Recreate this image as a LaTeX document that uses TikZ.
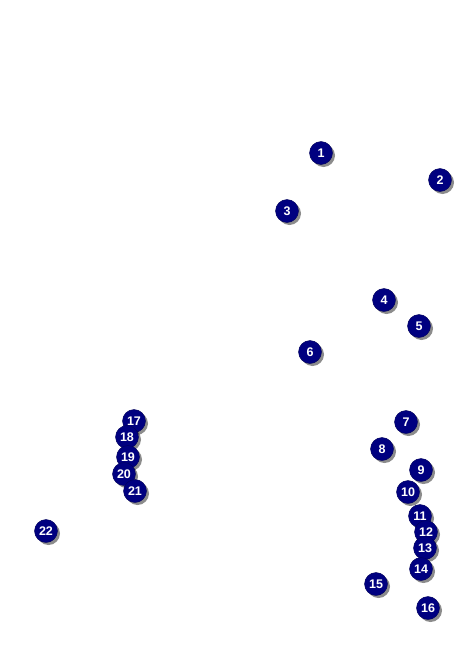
\documentclass[tikz,border=0pt]{standalone}
\usepackage{fontspec}
\setmainfont{Liberation Sans}
\usetikzlibrary{shadows}
\definecolor{pinnavy}{RGB}{0,0,128}

\begin{document}
\begin{tikzpicture}[
        x=1pt, y=-1pt,
        pin/.style={
            circle,
            fill=pinnavy,
            draw=pinnavy!70!black,
            line width=0.4pt,
            minimum size=23pt,
            inner sep=0pt,
            text=white,
            font=\bfseries\fontsize{12.5}{14}\selectfont,
            drop shadow={shadow xshift=2.5pt, shadow yshift=-2.5pt,
                         fill=black, opacity=0.45}
        }
    ]

        \useasboundingbox[fill=white] (0,0) rectangle (459,648);

        % upper right group
        \node[pin] (n1) at (321,153) {1};
        \node[pin] (n2) at (440,180) {2};
        \node[pin] (n3) at (287,211) {3};
        \node[pin] (n4) at (384,300) {4};
        \node[pin] (n5) at (419,326) {5};
        \node[pin] (n6) at (310,352) {6};

        % lower right column
        \node[pin] (n7) at (406,422) {7};
        \node[pin] (n8) at (382,449) {8};
        \node[pin] (n9) at (421,470) {9};
        \node[pin] (n10) at (408,492) {10};
        \node[pin] (n11) at (420,516) {11};
        \node[pin] (n12) at (426,532) {12};
        \node[pin] (n13) at (425,548) {13};
        \node[pin] (n14) at (421,569) {14};
        \node[pin] (n15) at (376,584) {15};
        \node[pin] (n16) at (428,608) {16};

        % left stack
        \node[pin] (n17) at (134,421) {17};
        \node[pin] (n18) at (127,437) {18};
        \node[pin] (n19) at (128,457) {19};
        \node[pin] (n20) at (124,474) {20};
        \node[pin] (n21) at (135,491) {21};
        \node[pin] (n22) at (46,531) {22};

    \end{tikzpicture}
\end{document}
